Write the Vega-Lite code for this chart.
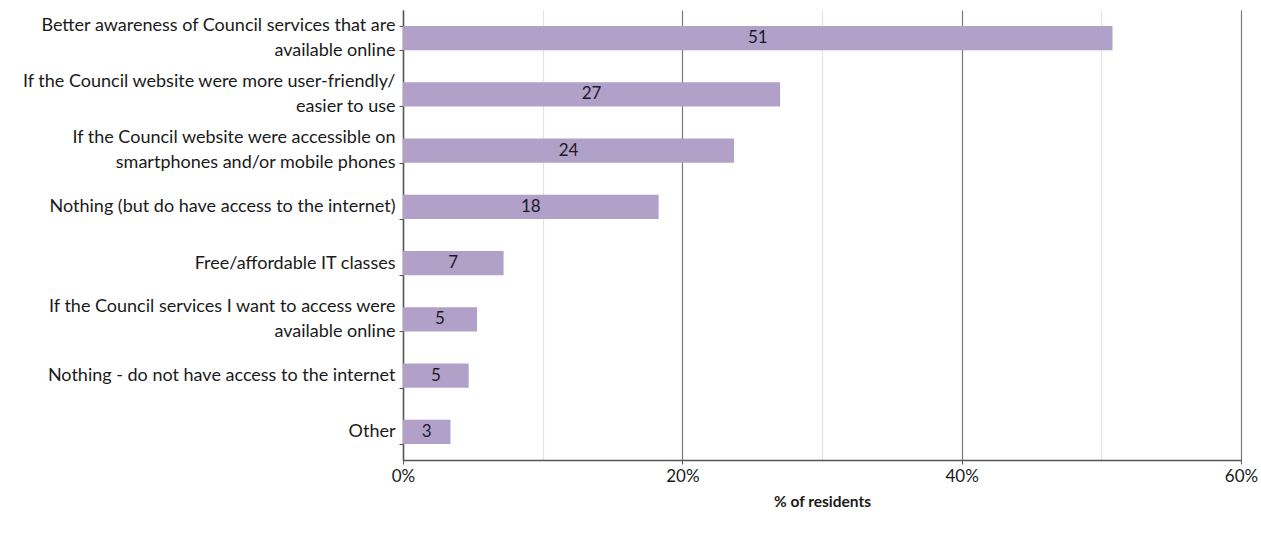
{
  "$schema": "https://vega.github.io/schema/vega-lite/v6.json",
  "width": 838,
  "height": 450,
  "autosize": {"type": "none"},
  "padding": {"left": 403, "top": 10, "right": 20, "bottom": 76},
  "background": "white",
  "config": {
    "view": {"stroke": null},
    "font": "Lato",
    "axis": {"labelFont": "Lato", "titleFont": "Lato"}
  },
  "data": {
    "values": [
      {"category": "Better awareness of Council services that are\navailable online", "pct": 50.8},
      {"category": "If the Council website were more user-friendly/\neasier to use", "pct": 27.0},
      {"category": "If the Council website were accessible on\nsmartphones and/or mobile phones", "pct": 23.7},
      {"category": "Nothing (but do have access to the internet)", "pct": 18.3},
      {"category": "Free/affordable IT classes", "pct": 7.2},
      {"category": "If the Council services I want to access were\navailable online", "pct": 5.3},
      {"category": "Nothing - do not have access to the internet", "pct": 4.7},
      {"category": "Other", "pct": 3.4}
    ]
  },
  "encoding": {
    "y": {
      "field": "category",
      "type": "nominal",
      "sort": null,
      "scale": {"paddingInner": 0.57, "paddingOuter": 0.285},
      "axis": {
        "title": null,
        "labelExpr": "isValid(datum.value) ? split(datum.value, '\\n') : ''",
        "labelFontSize": 18,
        "labelColor": "#1a1a1a",
        "labelLineHeight": 25,
        "labelLimit": 400,
        "labelPadding": 4,
        "labelOffset": {"condition": {"test": "isValid(datum.value) && indexof(datum.value, '\\n') >= 0", "value": -13}, "value": 0},
        "tickBand": "extent",
        "tickSize": 4,
        "tickColor": "#555555",
        "domainColor": "#555555",
        "domainWidth": 1.5
      }
    }
  },
  "resolve": {"scale": {"x": "independent"}, "axis": {"x": "independent"}},
  "layer": [
    {
      "mark": {"type": "bar", "color": "#b1a0c7"},
      "encoding": {
        "x": {
          "field": "pct",
          "type": "quantitative",
          "scale": {"domain": [0, 60], "nice": false},
          "axis": {
            "title": "% of residents",
            "titleFontSize": 15.5,
            "titleFontWeight": "bold",
            "titleColor": "#1a1a1a",
            "titlePadding": 10,
            "values": [0, 10, 20, 30, 40, 50, 60],
            "labelExpr": "datum.value % 20 == 0 ? datum.value + '%' : ''",
            "labelFlush": false,
            "labelFontSize": 17,
            "labelColor": "#1a1a1a",
            "labelPadding": 4,
            "grid": true,
            "gridColor": {"condition": {"test": "datum.value % 20 == 0", "value": "#7a7a7a"}, "value": "#e3e3e3"},
            "gridWidth": 1.2,
            "tickSize": 4,
            "tickColor": {"condition": {"test": "datum.value % 20 == 0", "value": "#555555"}, "value": "transparent"},
            "domainColor": "#555555",
            "domainWidth": 1.5
          }
        }
      }
    },
    {
      "mark": {"type": "text", "align": "center", "baseline": "middle", "fontSize": 17, "color": "#1a1a2a"},
      "encoding": {
        "x": {"field": "pct", "type": "quantitative", "scale": {"domain": [0, 120], "nice": false}, "axis": null},
        "text": {"field": "pct", "type": "quantitative", "format": ".0f"}
      }
    }
  ]
}
